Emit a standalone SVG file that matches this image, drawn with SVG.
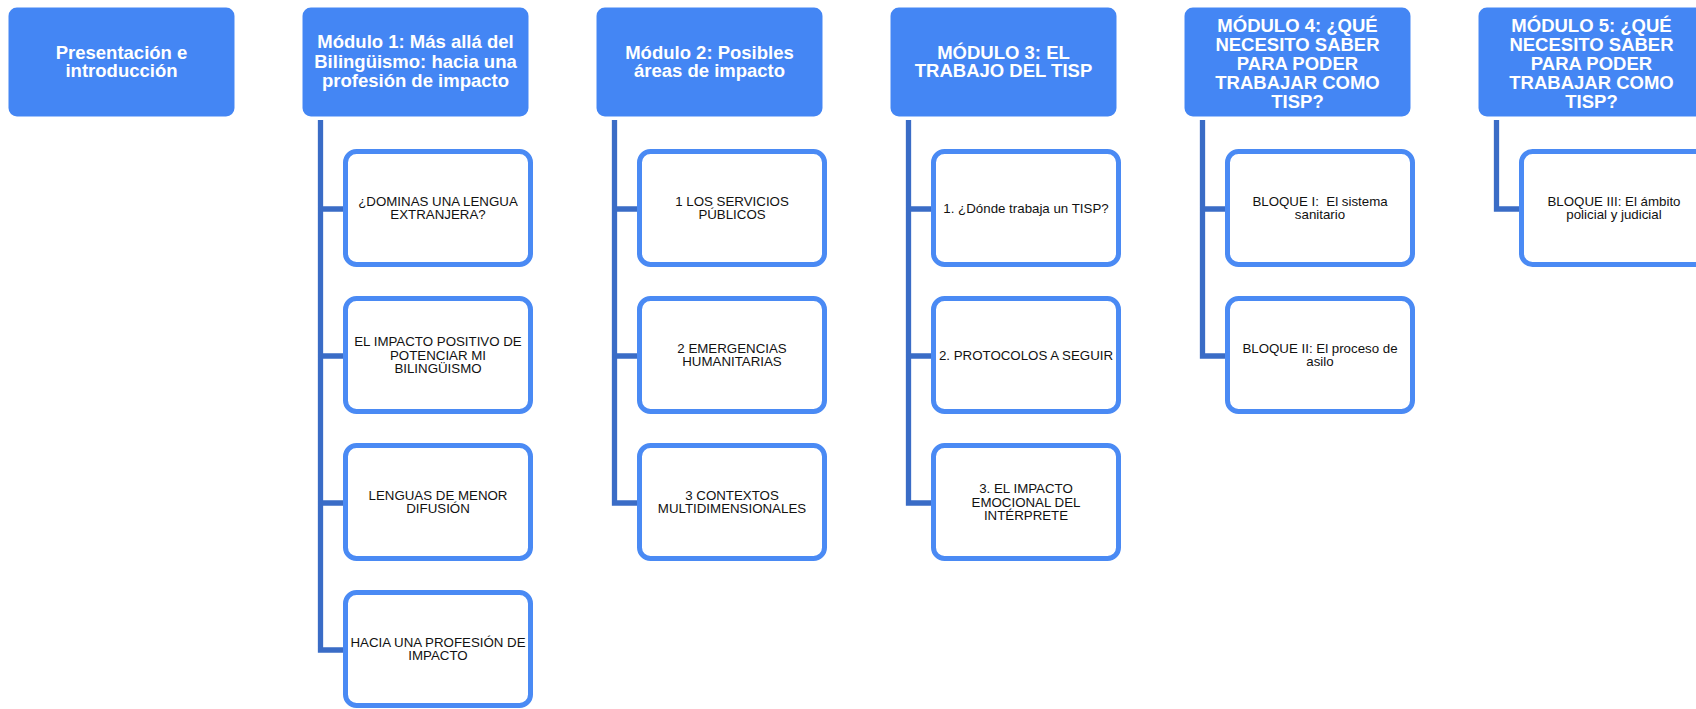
<svg xmlns="http://www.w3.org/2000/svg" width="1696" height="709" viewBox="0 0 1696 709">
<style>
.hdr{fill:#4486f4;stroke:#ffffff;stroke-width:3}
.ht{font-family:"Liberation Sans",Arial,sans-serif;font-weight:bold;font-size:18.5px;fill:#ffffff;text-anchor:middle}
.chd{fill:#ffffff;stroke:#4a8af4;stroke-width:5}
.ct{font-family:"Liberation Sans",Arial,sans-serif;font-size:13.3px;fill:#111111;text-anchor:middle;white-space:pre}
.cn{fill:none;stroke:#3a6cc6;stroke-width:5.3;stroke-linejoin:miter}
</style>
<rect width="1696" height="709" fill="#ffffff"/>

<g id="connectors">
<path class="cn" d="M320.5,120 V650 H346 M320.5,209 H346 M320.5,356 H346 M320.5,503 H346"/>
<path class="cn" d="M614.5,120 V503 H640 M614.5,209 H640 M614.5,356 H640"/>
<path class="cn" d="M908.5,120 V503 H934 M908.5,209 H934 M908.5,356 H934"/>
<path class="cn" d="M1202.5,120 V356 H1228 M1202.5,209 H1228"/>
<path class="cn" d="M1496.5,120 V209 H1522"/>
</g>

<g id="n0">
<rect class="hdr" x="7" y="6" width="229" height="112" rx="10"/>
<text class="ht" x="121.5" y="59">Presentación e</text>
<text class="ht" x="121.5" y="77">introducción</text>
</g>

<g id="n1">
<rect class="hdr" x="301" y="6" width="229" height="112" rx="10"/>
<text class="ht" x="415.5" y="48">Módulo 1: Más allá del</text>
<text class="ht" x="415.5" y="67.5">Bilingüismo: hacia una</text>
<text class="ht" x="415.5" y="87">profesión de impacto</text>
</g>
<g id="n1a">
<rect class="chd" x="345.5" y="151.5" width="185" height="113" rx="11"/>
<text class="ct" x="438" y="205.5">¿DOMINAS UNA LENGUA</text>
<text class="ct" x="438" y="218.8">EXTRANJERA?</text>
</g>
<g id="n1b">
<rect class="chd" x="345.5" y="298.5" width="185" height="113" rx="11"/>
<text class="ct" x="438" y="346.4">EL IMPACTO POSITIVO DE</text>
<text class="ct" x="438" y="359.7">POTENCIAR MI</text>
<text class="ct" x="438" y="373">BILINGÜISMO</text>
</g>
<g id="n1c">
<rect class="chd" x="345.5" y="445.5" width="185" height="113" rx="11"/>
<text class="ct" x="438" y="500">LENGUAS DE MENOR</text>
<text class="ct" x="438" y="513.3">DIFUSIÓN</text>
</g>
<g id="n1d">
<rect class="chd" x="345.5" y="592.5" width="185" height="113" rx="11"/>
<text class="ct" x="438" y="647">HACIA UNA PROFESIÓN DE</text>
<text class="ct" x="438" y="660.3">IMPACTO</text>
</g>

<g id="n2">
<rect class="hdr" x="595" y="6" width="229" height="112" rx="10"/>
<text class="ht" x="709.5" y="59">Módulo 2: Posibles</text>
<text class="ht" x="709.5" y="77">áreas de impacto</text>
</g>
<g id="n2a">
<rect class="chd" x="639.5" y="151.5" width="185" height="113" rx="11"/>
<text class="ct" x="732" y="205.5">1 LOS SERVICIOS</text>
<text class="ct" x="732" y="218.8">PÚBLICOS</text>
</g>
<g id="n2b">
<rect class="chd" x="639.5" y="298.5" width="185" height="113" rx="11"/>
<text class="ct" x="732" y="353">2 EMERGENCIAS</text>
<text class="ct" x="732" y="366.3">HUMANITARIAS</text>
</g>
<g id="n2c">
<rect class="chd" x="639.5" y="445.5" width="185" height="113" rx="11"/>
<text class="ct" x="732" y="500">3 CONTEXTOS</text>
<text class="ct" x="732" y="513.3">MULTIDIMENSIONALES</text>
</g>

<g id="n3">
<rect class="hdr" x="889" y="6" width="229" height="112" rx="10"/>
<text class="ht" x="1003.5" y="59">MÓDULO 3: EL</text>
<text class="ht" x="1003.5" y="77">TRABAJO DEL TISP</text>
</g>
<g id="n3a">
<rect class="chd" x="933.5" y="151.5" width="185" height="113" rx="11"/>
<text class="ct" x="1026" y="212.7">1. ¿Dónde trabaja un TISP?</text>
</g>
<g id="n3b">
<rect class="chd" x="933.5" y="298.5" width="185" height="113" rx="11"/>
<text class="ct" x="1026" y="359.7">2. PROTOCOLOS A SEGUIR</text>
</g>
<g id="n3c">
<rect class="chd" x="933.5" y="445.5" width="185" height="113" rx="11"/>
<text class="ct" x="1026" y="493.4">3. EL IMPACTO</text>
<text class="ct" x="1026" y="506.7">EMOCIONAL DEL</text>
<text class="ct" x="1026" y="520">INTÉRPRETE</text>
</g>

<g id="n4">
<rect class="hdr" x="1183" y="6" width="229" height="112" rx="10"/>
<text class="ht" x="1297.5" y="32">MÓDULO 4: ¿QUÉ</text>
<text class="ht" x="1297.5" y="51">NECESITO SABER</text>
<text class="ht" x="1297.5" y="70">PARA PODER</text>
<text class="ht" x="1297.5" y="89">TRABAJAR COMO</text>
<text class="ht" x="1297.5" y="108">TISP?</text>
</g>
<g id="n4a">
<rect class="chd" x="1227.5" y="151.5" width="185" height="113" rx="11"/>
<text class="ct" x="1320" y="205.5" xml:space="preserve">BLOQUE I:  El sistema</text>
<text class="ct" x="1320" y="218.8">sanitario</text>
</g>
<g id="n4b">
<rect class="chd" x="1227.5" y="298.5" width="185" height="113" rx="11"/>
<text class="ct" x="1320" y="353">BLOQUE II: El proceso de</text>
<text class="ct" x="1320" y="366.3">asilo</text>
</g>

<g id="n5">
<rect class="hdr" x="1477" y="6" width="229" height="112" rx="10"/>
<text class="ht" x="1591.5" y="32">MÓDULO 5: ¿QUÉ</text>
<text class="ht" x="1591.5" y="51">NECESITO SABER</text>
<text class="ht" x="1591.5" y="70">PARA PODER</text>
<text class="ht" x="1591.5" y="89">TRABAJAR COMO</text>
<text class="ht" x="1591.5" y="108">TISP?</text>
</g>
<g id="n5a">
<rect class="chd" x="1521.5" y="151.5" width="185" height="113" rx="11"/>
<text class="ct" x="1614" y="205.5">BLOQUE III: El ámbito</text>
<text class="ct" x="1614" y="218.8">policial y judicial</text>
</g>
</svg>
